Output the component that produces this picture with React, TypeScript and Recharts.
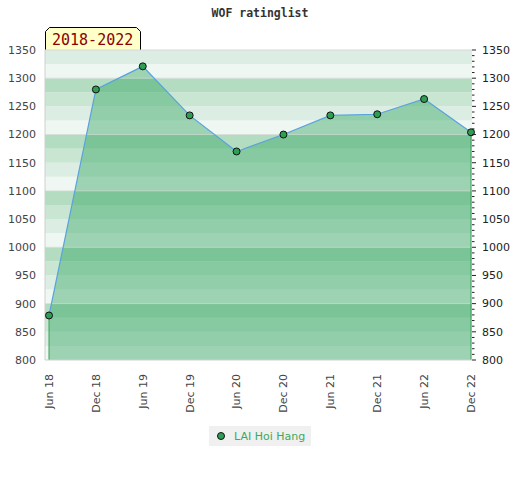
import React from 'react'
import {
  AreaChart,
  Area,
  Line,
  XAxis,
  YAxis,
  ReferenceArea,
  ReferenceLine,
  Customized,
} from 'recharts'

const periods = ['Jun 18', 'Dec 18', 'Jun 19', 'Dec 19', 'Jun 20', 'Dec 20', 'Jun 21', 'Dec 21', 'Jun 22', 'Dec 22']
const ratings = [879, 1280, 1321, 1234, 1170, 1200, 1234, 1236, 1263, 1204]
const ratingTicks = [800, 850, 900, 950, 1000, 1050, 1100, 1150, 1200, 1250, 1300, 1350]
const playerName = 'LAI Hoi Hang'
const rangeLabel = '2018-2022'
const title = 'WOF ratinglist'

const Y_MIN = 800
const Y_MAX = 1350

// 25-point stripes, four shades repeating every 100
const stripeColors = ['#eff7f2', '#dcede3', '#c9e6d3', '#b3dcc1']
const stripes: { y1: number; y2: number; fill: string }[] = []
for (let v = Y_MIN; v < Y_MAX; v += 25) {
  stripes.push({ y1: v, y2: v + 25, fill: stripeColors[((v % 100) / 25) | 0] })
}
const minorTicks: number[] = []
for (let v = Y_MIN; v <= Y_MAX; v += 10) minorTicks.push(v)
const hundreds = ratingTicks.filter((t) => t % 100 === 0 && t > Y_MIN)

const data = periods.map((p, i) => ({ period: p, rating: ratings[i], bg: i / (periods.length - 1) }))

const font = '"DejaVu Sans", sans-serif'

function XTick(props: any) {
  const { x, y, payload } = props
  return (
    <text
      x={x}
      y={y}
      transform={`rotate(-90, ${x}, ${y})`}
      textAnchor="end"
      dy="0.35em"
      fontSize={11}
      fontFamily={font}
      fill="#444"
    >
      {payload.value}
    </text>
  )
}

function renderRightTick(props: any) {
  const { x, y, payload } = props
  const major = payload.value % 50 === 0
  return (
    <g key={`rt-${payload.value}`}>
      <line x1={x} y1={y} x2={x + (major ? 4 : 2.5)} y2={y} stroke="#222" strokeWidth={1} />
      {major && (
        <text x={x + 10} y={y} dy="0.35em" fontSize={11} fontFamily={font} fill="#222">
          {payload.value}
        </text>
      )}
    </g>
  )
}

function Decorations() {
  return (
    <g>
      <text
        x={260}
        y={17}
        textAnchor="middle"
        fontSize={11.5}
        fontWeight="bold"
        fontFamily='"DejaVu Sans Mono", monospace'
        fill="#333"
      >
        {title}
      </text>
      <path d="M45.5,50 L45.5,31.5 L49.5,27.5 L136.5,27.5 L140.5,31.5 L140.5,50" fill="#ffffc8" stroke="#000" />
      <text x={52} y={45} fontSize={15} fontFamily='"DejaVu Sans Mono", monospace' fill="#8b0000">
        {rangeLabel}
      </text>
      <rect x={209} y={426} width={102} height={20} fill="#f0f0f0" />
      <circle cx={221} cy={436} r={3.5} fill="#2e9e55" stroke="#111" strokeWidth={1} />
      <text x={234} y={440} fontSize={11} fontFamily={font} fill="#3aaa5f">
        {playerName}
      </text>
    </g>
  )
}

export default function App() {
  const first = data[0]
  const last = data[data.length - 1]
  return (
    <div style={{ position: 'absolute', left: 0, top: 0 }}>
      <AreaChart width={520} height={480} data={data} margin={{ top: 50, right: 0, bottom: 0, left: 0 }}>
        <XAxis
          dataKey="period"
          interval={0}
          height={120}
          padding={{ left: 4, right: 1 }}
          tickLine={false}
          tickSize={0}
          tickMargin={14}
          axisLine={{ stroke: '#cfcfcf' }}
          tick={<XTick />}
        />
        <XAxis xAxisId="bg" type="number" dataKey="bg" domain={[0, 1]} hide />
        <YAxis
          yAxisId="left"
          domain={[Y_MIN, Y_MAX]}
          ticks={ratingTicks}
          interval={0}
          width={45}
          tickLine={false}
          tickSize={0}
          tickMargin={9}
          axisLine={{ stroke: '#cfcfcf' }}
          tick={{ fontSize: 11, fontFamily: font, fill: '#444' }}
        />
        <YAxis
          yAxisId="right"
          orientation="right"
          domain={[Y_MIN, Y_MAX]}
          ticks={minorTicks}
          interval={0}
          width={48}
          tickLine={false}
          tickSize={0}
          tickMargin={0}
          axisLine={false}
          tick={renderRightTick}
        />
        {stripes.map((s) => (
          <ReferenceArea
            key={s.y1}
            xAxisId="bg"
            yAxisId="left"
            x1={0}
            x2={1}
            y1={s.y1}
            y2={s.y2}
            fill={s.fill}
            fillOpacity={1}
            stroke="none"
          />
        ))}
        {hundreds.map((h) => (
          <ReferenceLine key={h} xAxisId="bg" yAxisId="left" y={h} stroke="#cfd8d2" strokeOpacity={0.7} />
        ))}
        <ReferenceLine xAxisId="bg" yAxisId="left" y={Y_MAX} stroke="#d8d8d8" />
        <Area
          yAxisId="left"
          type="linear"
          dataKey="rating"
          baseValue={Y_MIN}
          fill="#31a45f"
          fillOpacity={0.43}
          stroke="none"
          isAnimationActive={false}
        />
        <ReferenceLine
          yAxisId="left"
          segment={[{ x: first.period, y: Y_MIN }, { x: first.period, y: first.rating }]}
          stroke="#3aa05a"
        />
        <ReferenceLine
          yAxisId="left"
          segment={[{ x: last.period, y: Y_MIN }, { x: last.period, y: last.rating }]}
          stroke="#3aa05a"
        />
        <Line
          yAxisId="right"
          type="linear"
          dataKey="rating"
          stroke="none"
          dot={false}
          activeDot={false}
          isAnimationActive={false}
        />
        <Line
          yAxisId="left"
          type="linear"
          dataKey="rating"
          stroke="#5aa2de"
          strokeWidth={1.2}
          dot={{ r: 3.5, fill: '#2e9e55', stroke: '#111', strokeWidth: 1 }}
          isAnimationActive={false}
        />
        <Customized component={<Decorations />} />
      </AreaChart>
    </div>
  )
}
